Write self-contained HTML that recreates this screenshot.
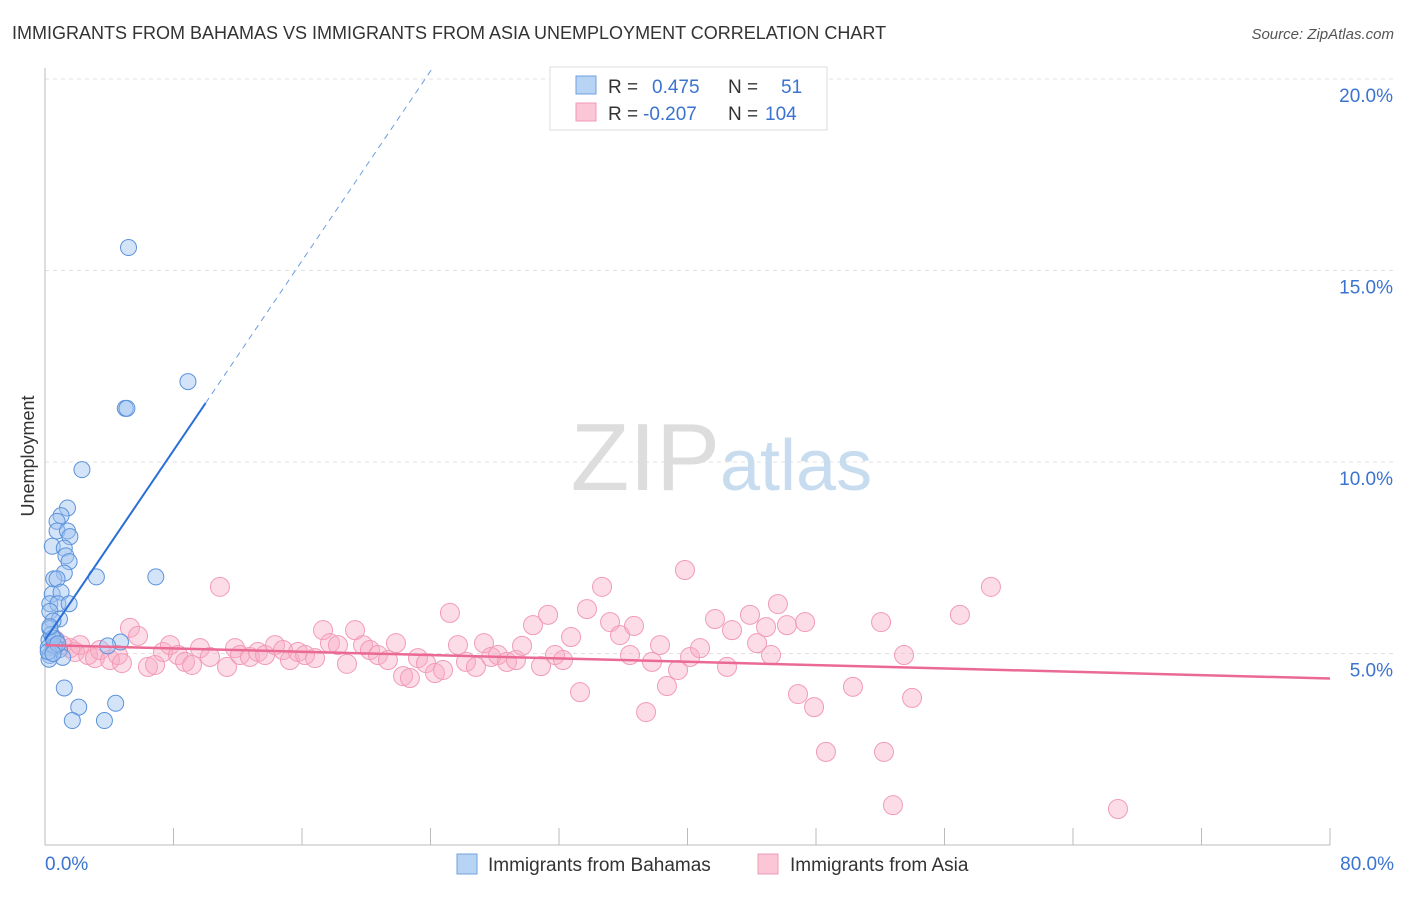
<!DOCTYPE html>
<html><head><meta charset="utf-8"><style>
body{margin:0;background:#fff;font-family:"Liberation Sans",sans-serif;}
svg text{font-family:"Liberation Sans",sans-serif;}
</style></head><body>
<svg id="chart" width="1406" height="892">
<text x="12" y="39" font-size="18" fill="#333">IMMIGRANTS FROM BAHAMAS VS IMMIGRANTS FROM ASIA UNEMPLOYMENT CORRELATION CHART</text>
<text x="1394" y="39" font-size="15" fill="#555" text-anchor="end" font-style="italic">Source: ZipAtlas.com</text>
<text x="34" y="456" font-size="18" fill="#333" text-anchor="middle" transform="rotate(-90 34 456)">Unemployment</text>
<g id="grid"></g><g id="axes"></g>
<text x="720" y="490" font-size="96" fill="#ddd" text-anchor="end" font-family="Liberation Serif">ZIP</text>
<text x="720" y="490" font-size="72" fill="#c8dcf0">atlas</text>
<g id="pink"></g><g id="blue"></g><g id="trends"></g>
<g>
<rect x="550" y="67" width="277" height="63" fill="#fff" stroke="#ddd"/>
<rect x="576" y="76" width="20" height="18" fill="#b8d4f5" stroke="#6fa0e0"/>
<rect x="576" y="103" width="20" height="18" fill="#fbc6d5" stroke="#f09ab5"/>
<text x="608" y="93" font-size="19" fill="#333">R = <tspan fill="#3b73d0" x="652">0.475</tspan><tspan fill="#333" x="728">N =</tspan><tspan fill="#3b73d0" x="781">51</tspan></text>
<text x="608" y="120" font-size="19" fill="#333">R = <tspan fill="#3b73d0" x="643">-0.207</tspan><tspan fill="#333" x="728">N =</tspan><tspan fill="#3b73d0" x="765">104</tspan></text>
</g>
<g>
<rect x="457" y="854" width="20" height="20" fill="#b8d4f5" stroke="#6fa0e0"/>
<text x="488" y="871" font-size="19" fill="#333">Immigrants from Bahamas</text>
<rect x="758" y="854" width="20" height="20" fill="#fbc6d5" stroke="#f09ab5"/>
<text x="790" y="871" font-size="19" fill="#333">Immigrants from Asia</text>
</g>
</svg>
<script>
const yTicks=[5,10,15,20];
const yTickLabels=["5.0%","10.0%","15.0%","20.0%"];
const xTickLabels=["0.0%","80.0%"];
const blueX=[5.2,8.9,5.0,5.1,2.3,1.4,1.0,0.75,0.75,1.4,1.55,0.45,1.2,1.3,1.5,1.2,0.55,0.75,3.2,6.9,0.45,1.0,0.3,0.8,1.5,0.3,0.9,0.5,0.3,0.7,0.25,4.7,3.9,0.2,0.6,0.9,0.3,1.1,0.25,1.2,2.1,4.4,1.7,3.7,0.4,0.6,0.2,0.5,0.8,0.3,0.5];
const blueY=[15.6,12.1,11.4,11.4,9.8,8.8,8.6,8.45,8.2,8.2,8.05,7.8,7.75,7.55,7.4,7.1,6.95,6.95,7.0,7.0,6.55,6.6,6.3,6.3,6.3,6.1,5.9,5.85,5.65,5.35,5.35,5.3,5.2,5.15,5.15,5.1,4.95,4.9,4.85,4.1,3.6,3.7,3.25,3.25,5.5,5.2,5.05,5.4,5.25,5.7,5.0];
const pinkPx=[[55,640],[62,645],[70,648],[75,652],[80,645],[88,655],[95,658],[100,650],[110,660],[118,655],[122,663],[130,628],[138,636],[148,667],[155,665],[163,652],[170,645],[178,655],[185,662],[192,665],[200,648],[210,657],[220,587],[227,667],[235,648],[240,655],[250,657],[258,652],[265,655],[275,645],[283,650],[290,660],[298,652],[305,655],[315,658],[323,630],[330,643],[338,645],[347,664],[355,630],[363,645],[370,650],[378,655],[388,660],[396,643],[403,676],[410,678],[418,658],[426,663],[435,673],[443,670],[450,613],[458,645],[466,662],[476,667],[484,643],[491,657],[498,655],[507,662],[516,660],[522,646],[533,625],[541,666],[548,615],[555,655],[563,660],[571,637],[580,692],[587,609],[602,587],[610,622],[620,635],[630,655],[634,626],[646,712],[652,662],[660,645],[667,686],[678,670],[685,570],[690,657],[700,648],[715,619],[727,667],[732,630],[750,615],[757,643],[766,627],[771,655],[778,604],[787,625],[798,694],[805,622],[814,707],[826,752],[853,687],[881,622],[884,752],[893,805],[904,655],[912,698],[960,615],[991,587],[1118,809]];
const pinkX=pinkPx.map(p=>+((p[0]-45)/16.0625).toFixed(2));
const pinkY=pinkPx.map(p=>+((845-p[1])/38.3).toFixed(2));
const blueTrend=[5.35,0.619];
const pinkTrend=[5.22,-0.0109];
const NS="http://www.w3.org/2000/svg";
const xs=v=>45+v*16.0625, ys=v=>845-v*38.3;
function mk(tag,attrs,parent){const e=document.createElementNS(NS,tag);for(const k in attrs)e.setAttribute(k,attrs[k]);document.getElementById(parent).appendChild(e);return e;}
yTicks.forEach((t,i)=>{
 const l=mk('line',{x1:45,x2:1394,y1:ys(t),y2:ys(t),stroke:'#e0e0e0','stroke-dasharray':'4,4'},'grid');
 
 
 const tx=mk('text',{x:1393,y:ys(t)+23,'font-size':19,fill:'#3b73d0','text-anchor':'end'},'axes');
 tx.textContent=yTickLabels[i];
 
 
});
const ax=mk('line',{x1:45,x2:45,y1:68,y2:845,stroke:'#bbb'},'axes');


const bx=mk('line',{x1:45,x2:1330,y1:845,y2:845,stroke:'#bbb'},'axes');


for(let i=0;i<=10;i++){const t=mk('line',{x1:xs(i*8),x2:xs(i*8),y1:828,y2:845,stroke:'#bbb'},'axes');
 
 }
[[0,'start',45],[80,'end',1394]].forEach((a,i)=>{const t=mk('text',{x:a[2],y:870,'font-size':19,fill:'#3b73d0','text-anchor':a[1]},'axes');t.textContent=xTickLabels[i];
 
 });
pinkX.forEach((x,i)=>{const c=mk('circle',{cx:xs(x),cy:ys(pinkY[i]),r:9.5,fill:'rgba(248,170,195,0.4)',stroke:'#f29bb7','stroke-width':1},'pink');
 
 });
blueX.forEach((x,i)=>{const c=mk('circle',{cx:xs(x),cy:ys(blueY[i]),r:8,fill:'rgba(160,195,240,0.45)',stroke:'#5b92dc','stroke-width':1},'blue');
 
 });
const bEnd=10;const bTop=(20.3-blueTrend[0])/blueTrend[1];
let l1=mk('line',{x1:xs(0),y1:ys(blueTrend[0]),x2:xs(bEnd),y2:ys(blueTrend[0]+blueTrend[1]*bEnd),stroke:'#2a6fd6','stroke-width':2},'trends');


let l2=mk('line',{x1:xs(bEnd),y1:ys(blueTrend[0]+blueTrend[1]*bEnd),x2:xs(bTop),y2:ys(20.3),stroke:'#6a9ee0','stroke-width':1,'stroke-dasharray':'6,5'},'trends');


let l3=mk('line',{x1:xs(0),y1:ys(pinkTrend[0]),x2:xs(80),y2:ys(pinkTrend[0]+pinkTrend[1]*80),stroke:'#ea6a94','stroke-width':2.5},'trends');


</script>
</body></html>
